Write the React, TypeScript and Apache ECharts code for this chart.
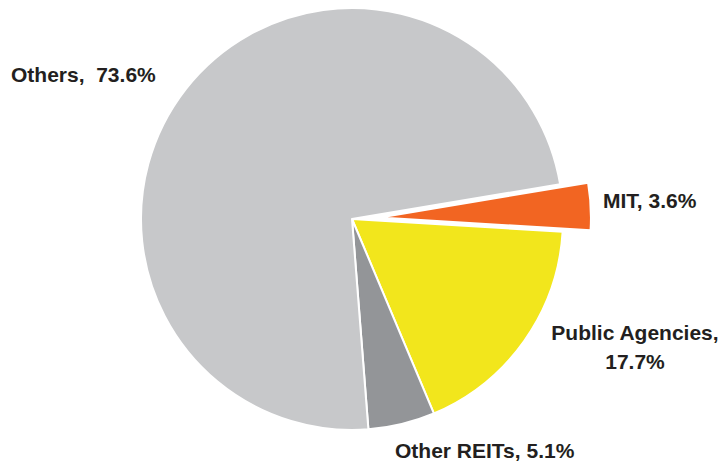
import React, { useEffect, useRef } from "react";
import * as echarts from "echarts";

const categories = ["MIT", "Public Agencies", "Other REITs", "Others"];
const shares = [3.6, 17.7, 5.1, 73.6];
const labelTexts = ["MIT, 3.6%", "Public Agencies,\n17.7%", "Other REITs, 5.1%", "Others,  73.6%"];
const colors = ["#f26522", "#f2e61c", "#939598", "#c7c8ca"];
const explodedIndex = 0;

// label anchor positions (x, y, align)
const labelAnchors: [number, number, string][] = [
  [603, 200, "left"],
  [635, 347, "center"],
  [395, 450, "left"],
  [11, 74, "left"],
];

const FONT = "Liberation Sans, Arial, Helvetica, sans-serif";
const TEXT_COLOR = "#231f20";

export default function App() {
  const ref = useRef<HTMLDivElement>(null);
  useEffect(() => {
    if (!ref.current) return;
    const chart = echarts.init(ref.current, undefined, { renderer: "svg" });
    const a = labelAnchors[explodedIndex];
    chart.setOption({
      animation: false,
      backgroundColor: "#ffffff",
      graphic: [
        {
          type: "text",
          x: a[0],
          y: a[1],
          style: {
            text: labelTexts[explodedIndex],
            fill: TEXT_COLOR,
            font: `bold 21px ${FONT}`,
            textAlign: a[2],
            textVerticalAlign: "middle",
          },
        },
      ],
      series: [
        {
          type: "pie",
          center: [352, 219],
          radius: 211,
          startAngle: 9.5,
          clockwise: true,
          selectedMode: "single",
          selectedOffset: 28,
          avoidLabelOverlap: false,
          emphasis: { disabled: true },
          itemStyle: { borderColor: "#ffffff", borderWidth: 2 },
          labelLine: { show: false },
          label: {
            show: true,
            position: "outside",
            color: TEXT_COLOR,
            fontSize: 21,
            fontWeight: "bold",
            fontFamily: FONT,
            lineHeight: 29,
            formatter: (p: any) => labelTexts[p.dataIndex],
          },
          labelLayout: (p: any) => {
            const b = labelAnchors[p.dataIndex];
            return { x: b[0], y: b[1], align: b[2], verticalAlign: "middle" };
          },
          data: categories.map((name, i) => ({
            name,
            value: shares[i],
            selected: i === explodedIndex,
            itemStyle: { color: colors[i] },
            select: { itemStyle: { color: colors[i] }, label: { show: false } },
            label: i === explodedIndex ? { show: false } : undefined,
          })),
        },
      ],
    });
    return () => chart.dispose();
  }, []);
  return (
    <div
      ref={ref}
      style={{ position: "absolute", left: 0, top: 0, width: 723, height: 464 }}
    />
  );
}
